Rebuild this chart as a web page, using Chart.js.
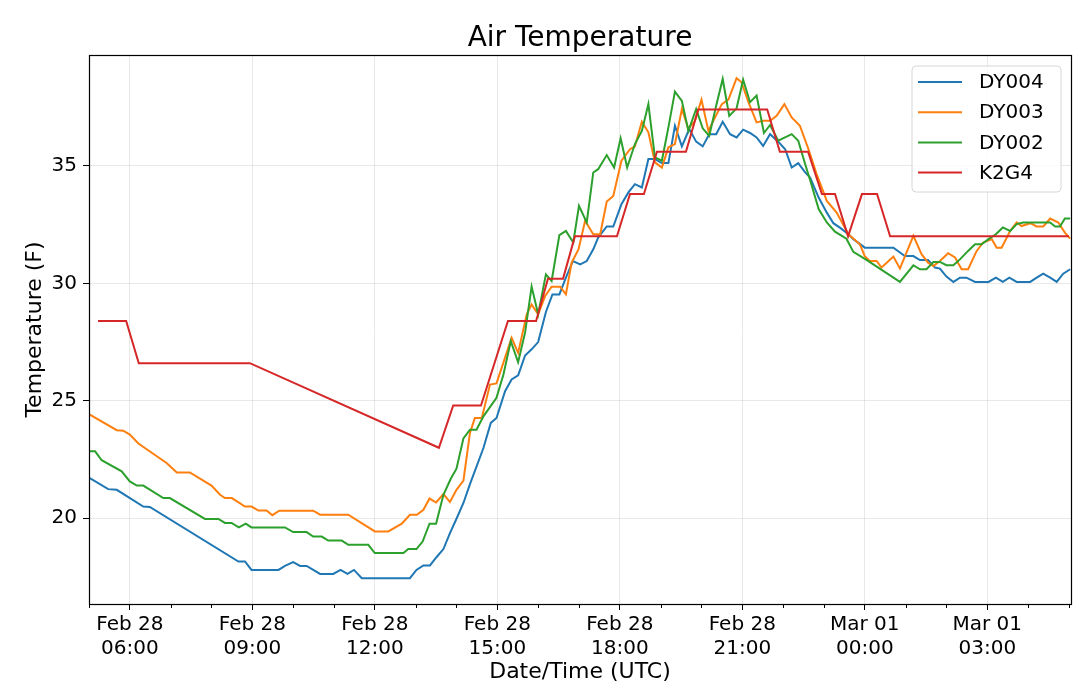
<!DOCTYPE html>
<html>
<head>
<meta charset="utf-8">
<script src="https://cdn.jsdelivr.net/npm/chart.js@4.4.1/dist/chart.umd.min.js"></script>
<style>
  html, body { margin: 0; padding: 0; background: #ffffff; }
  #wrap { width: 1080px; height: 694px; }
</style>
</head>
<body>
<div id="wrap"><canvas id="c" width="1080" height="694"></canvas></div>
<script>
// ---- Data (hours since Feb 28 00:00 UTC, temperature in F) ----
const dy004Hours = [5.02,5.47,5.68,6.33,6.49,8.66,8.82,8.98,9.64,9.8,10.0,10.17,10.33,10.66,10.98,11.16,11.33,11.49,11.68,12.86,13.02,13.19,13.35,13.51,13.68,13.84,14.0,14.17,14.33,14.66,14.84,14.98,15.19,15.35,15.51,15.68,15.84,16.0,16.19,16.35,16.52,16.68,16.85,17.03,17.19,17.35,17.47,17.68,17.84,18.04,18.21,18.37,18.54,18.7,18.86,19.03,19.19,19.35,19.52,19.7,19.87,20.03,20.19,20.36,20.52,20.7,20.86,21.02,21.19,21.35,21.51,21.68,21.88,22.05,22.21,22.37,22.54,22.66,22.87,23.07,23.23,23.39,23.6,23.72,24.0,24.7,24.98,25.19,25.35,25.55,25.72,25.84,26.0,26.17,26.33,26.49,26.7,27.03,27.21,27.38,27.54,27.72,28.05,28.21,28.37,28.54,28.7,28.86,29.03];
const dy004Temps = [21.71,21.24,21.21,20.5,20.48,18.16,18.16,17.8,17.8,17.97,18.13,17.97,17.97,17.63,17.63,17.8,17.63,17.8,17.45,17.45,17.8,17.99,17.99,18.34,18.69,19.37,19.98,20.65,21.45,22.99,24.06,24.27,25.41,25.91,26.08,26.93,27.19,27.5,28.78,29.53,29.53,30.24,30.95,30.81,30.95,31.45,31.95,32.42,32.42,33.37,33.87,34.22,34.08,35.29,35.29,35.12,35.12,36.71,35.83,36.57,36.03,35.83,36.35,36.35,36.88,36.35,36.21,36.54,36.4,36.21,35.85,36.35,36.03,35.71,34.93,35.12,34.72,34.5,33.65,33.01,32.56,32.37,32.09,31.88,31.52,31.52,31.16,31.16,30.99,30.99,30.67,30.63,30.29,30.06,30.24,30.24,30.06,30.06,30.24,30.06,30.24,30.06,30.06,30.24,30.41,30.24,30.06,30.41,30.6];

const dy003Hours = [5.02,5.68,5.84,6.0,6.21,6.9,7.15,7.47,8.0,8.21,8.33,8.5,8.82,8.98,9.15,9.35,9.49,9.66,10.49,10.66,11.35,12.0,12.33,12.66,12.86,13.03,13.19,13.34,13.5,13.68,13.84,14.0,14.17,14.33,14.45,14.62,14.82,14.98,15.35,15.51,15.72,15.84,16.0,16.17,16.33,16.54,16.68,16.82,16.99,17.15,17.35,17.52,17.68,17.84,18.04,18.25,18.37,18.54,18.7,18.86,19.03,19.19,19.35,19.52,19.68,19.84,20.0,20.17,20.33,20.5,20.66,20.86,20.98,21.15,21.35,21.51,21.68,21.84,22.03,22.21,22.41,22.62,22.82,23.07,23.31,23.6,23.88,24.0,24.12,24.29,24.41,24.7,24.86,25.19,25.39,25.55,25.68,25.84,26.04,26.21,26.37,26.53,26.74,26.9,27.11,27.23,27.35,27.56,27.72,27.84,28.05,28.21,28.37,28.54,28.74,28.9,29.03];
const dy003Temps = [24.41,23.75,23.73,23.56,23.18,22.35,21.95,21.95,21.39,21.0,20.86,20.86,20.5,20.5,20.33,20.33,20.13,20.32,20.32,20.15,20.15,19.44,19.44,19.77,20.15,20.15,20.36,20.84,20.67,21.03,20.69,21.21,21.6,23.63,24.27,24.27,25.69,25.74,27.68,27.04,28.68,29.1,28.68,29.46,29.86,29.86,29.53,30.88,31.45,32.66,32.09,32.09,33.48,33.72,35.22,35.71,35.83,36.88,36.43,35.15,34.93,35.79,35.93,37.42,36.57,36.92,37.82,36.49,37.06,37.63,37.82,38.73,38.56,37.71,36.85,36.92,36.92,37.13,37.63,37.06,36.71,35.71,34.65,33.51,33.01,32.09,31.66,31.16,30.95,30.95,30.67,31.14,30.63,32.02,31.24,30.88,30.74,30.95,31.28,31.1,30.6,30.6,31.38,31.74,31.88,31.52,31.52,32.23,32.59,32.44,32.56,32.42,32.42,32.76,32.59,32.16,31.9];

const dy002Hours = [5.02,5.15,5.31,5.8,6.0,6.17,6.33,6.82,6.98,7.84,8.17,8.33,8.49,8.67,8.84,8.98,9.8,10.0,10.33,10.49,10.7,10.86,11.19,11.35,11.84,12.0,12.7,12.82,13.02,13.17,13.34,13.5,13.68,13.86,14.0,14.17,14.33,14.49,14.66,14.98,15.15,15.33,15.51,15.68,15.84,16.0,16.19,16.33,16.52,16.68,16.86,17.0,17.19,17.35,17.47,17.68,17.86,18.02,18.18,18.37,18.54,18.7,18.86,19.03,19.19,19.35,19.52,19.68,19.87,20.03,20.19,20.36,20.52,20.68,20.86,21.02,21.19,21.35,21.53,21.68,21.88,22.21,22.37,22.54,22.66,22.87,23.07,23.27,23.55,23.72,24.05,24.86,25.19,25.35,25.51,25.68,25.84,26.0,26.17,26.33,26.53,26.7,26.86,27.03,27.21,27.38,27.56,27.72,27.88,28.54,28.66,28.78,28.9,29.03];
const dy002Temps = [22.85,22.85,22.47,22.0,21.57,21.39,21.39,20.86,20.86,19.97,19.97,19.8,19.8,19.61,19.77,19.61,19.61,19.41,19.41,19.22,19.22,19.05,19.05,18.87,18.87,18.52,18.52,18.69,18.69,19.01,19.77,19.77,21.0,21.68,22.11,23.4,23.77,23.77,24.34,25.13,26.12,27.54,26.64,27.9,29.86,28.68,30.38,30.1,32.05,32.23,31.74,33.3,32.59,34.72,34.86,35.46,34.93,36.17,34.93,35.93,36.49,37.63,35.36,35.22,36.64,38.16,37.77,36.49,37.42,36.6,36.28,37.56,38.7,37.13,37.45,38.67,37.71,37.99,36.4,36.74,36.07,36.35,36.07,35.07,34.4,33.16,32.59,32.2,31.9,31.34,30.99,30.06,30.77,30.6,30.6,30.91,30.91,30.77,30.77,31.02,31.38,31.66,31.66,31.88,32.09,32.38,32.23,32.52,32.59,32.59,32.42,32.42,32.76,32.76];

const k2g4Hours = [5.22,5.91,6.22,8.94,13.57,13.92,14.6,15.26,15.95,16.24,16.61,16.9,17.93,18.25,18.59,18.91,19.62,19.92,21.61,21.92,22.61,22.95,23.27,23.59,23.93,24.3,24.62,29.0];
const k2g4Temps = [28.4,28.4,26.6,26.6,23.0,24.8,24.8,28.4,28.4,30.2,30.2,32.0,32.0,33.8,33.8,35.6,35.6,37.4,37.4,35.6,35.6,33.8,33.8,32.0,33.8,33.8,32.0,32.0];

const seriesNames = ['DY004', 'DY003', 'DY002', 'K2G4'];
const chartTitle = 'Air Temperature';
const xTickHours = [6, 9, 12, 15, 18, 21, 24, 27];
const xTickLabels = [['Feb 28','06:00'],['Feb 28','09:00'],['Feb 28','12:00'],['Feb 28','15:00'],['Feb 28','18:00'],['Feb 28','21:00'],['Mar 01','00:00'],['Mar 01','03:00']];
const yTickValues = [20, 25, 30, 35];

// ---- Build ----
const FONT = "'DejaVu Sans', 'Liberation Sans', sans-serif";
const colors = ['#1f77b4', '#ff7f0e', '#2ca02c', '#d62728'];
const pairs = (hs, ts) => hs.map((h, i) => ({ x: h, y: ts[i] }));
const seriesData = [pairs(dy004Hours, dy004Temps), pairs(dy003Hours, dy003Temps), pairs(dy002Hours, dy002Temps), pairs(k2g4Hours, k2g4Temps)];

const datasets = seriesNames.map((name, i) => ({
  label: name,
  data: seriesData[i],
  borderColor: colors[i],
  backgroundColor: colors[i],
  borderWidth: 2,
  pointRadius: 0,
  tension: 0,
  fill: false,
  order: seriesNames.length - 1 - i
}));

const isMajorX = (v) => xTickHours.some(h => Math.abs(h - v) < 1e-6);

const framePlugin = {
  id: 'frameAndLegend',
  afterDraw(chart) {
    const { ctx, chartArea: a } = chart;
    const xs = chart.scales.x;
    ctx.save();
    // title centred over the plot area
    ctx.fillStyle = '#000';
    ctx.font = '28px ' + FONT;
    ctx.textAlign = 'center';
    ctx.textBaseline = 'alphabetic';
    ctx.fillText(chartTitle, (a.left + a.right) / 2, 46);
    // minor ticks
    ctx.strokeStyle = '#000';
    ctx.lineWidth = 1;
    xs.ticks.forEach(t => {
      if (isMajorX(t.value)) return;
      const px = Math.round(xs.getPixelForValue(t.value)) + 0.5;
      ctx.beginPath();
      ctx.moveTo(px, a.bottom);
      ctx.lineTo(px, a.bottom + 4);
      ctx.stroke();
    });
    // spines
    ctx.strokeStyle = '#000';
    ctx.lineWidth = 1.2;
    ctx.strokeRect(Math.round(a.left) + 0.5, Math.round(a.top) + 0.5, Math.round(a.right - a.left), Math.round(a.bottom - a.top));
    // legend
    const bx = 912, by = 66, bw = 149, bh = 126, r = 4;
    ctx.beginPath();
    ctx.moveTo(bx + r, by);
    ctx.lineTo(bx + bw - r, by);
    ctx.quadraticCurveTo(bx + bw, by, bx + bw, by + r);
    ctx.lineTo(bx + bw, by + bh - r);
    ctx.quadraticCurveTo(bx + bw, by + bh, bx + bw - r, by + bh);
    ctx.lineTo(bx + r, by + bh);
    ctx.quadraticCurveTo(bx, by + bh, bx, by + bh - r);
    ctx.lineTo(bx, by + r);
    ctx.quadraticCurveTo(bx, by, bx + r, by);
    ctx.closePath();
    ctx.fillStyle = 'rgba(255,255,255,0.8)';
    ctx.fill();
    ctx.strokeStyle = '#d6d6d6';
    ctx.lineWidth = 1;
    ctx.stroke();
    ctx.font = '20px ' + FONT;
    ctx.textBaseline = 'middle';
    ctx.textAlign = 'left';
    chart.data.datasets.forEach((ds, i) => {
      const yy = 82 + i * 30.2;
      ctx.strokeStyle = ds.borderColor;
      ctx.lineWidth = 2;
      ctx.beginPath();
      ctx.moveTo(918, yy);
      ctx.lineTo(962, yy);
      ctx.stroke();
      ctx.fillStyle = '#000';
      ctx.fillText(ds.label, 979, yy + 1);
    });
    ctx.restore();
  }
};

new Chart(document.getElementById('c'), {
  type: 'line',
  data: { datasets },
  options: {
    responsive: false,
    animation: false,
    devicePixelRatio: 1,
    layout: { padding: { left: 0, right: 9, top: 55, bottom: 0 } },
    plugins: {
      legend: { display: false },
      tooltip: { enabled: false },
      title: { display: false }
    },
    scales: {
      x: {
        type: 'linear',
        min: 5,
        max: 29.05,
        afterFit: (s) => { s.height = 90; },
        ticks: {
          stepSize: 1,
          includeBounds: false,
          autoSkip: false,
          maxRotation: 0,
          minRotation: 0,
          padding: 3,
          color: '#000',
          font: { family: FONT, size: 20, lineHeight: 1.2 },
          callback: (v) => {
            const idx = xTickHours.findIndex(h => Math.abs(h - v) < 1e-6);
            return idx >= 0 ? xTickLabels[idx] : '';
          }
        },
        grid: {
          color: (c) => (c.tick && isMajorX(c.tick.value)) ? 'rgba(0,0,0,0.09)' : 'rgba(0,0,0,0)',
          tickColor: (c) => (c.tick && isMajorX(c.tick.value)) ? '#000' : 'rgba(0,0,0,0)',
          tickLength: 6,
          drawTicks: true,
          lineWidth: 1
        },
        border: { display: false },
        title: {
          display: true,
          text: 'Date/Time (UTC)',
          color: '#000',
          font: { family: FONT, size: 22 },
          padding: { top: 0, bottom: 8.8 }
        }
      },
      y: {
        type: 'linear',
        min: 16.35,
        max: 39.72,
        afterFit: (s) => { s.width = 89; },
        afterBuildTicks: (s) => { s.ticks = yTickValues.map(v => ({ value: v })); },
        ticks: {
          stepSize: 5,
          includeBounds: false,
          padding: 6,
          color: '#000',
          font: { family: FONT, size: 20 }
        },
        grid: {
          color: 'rgba(0,0,0,0.09)',
          tickColor: '#000',
          tickLength: 6,
          lineWidth: 1
        },
        border: { display: false },
        title: {
          display: true,
          text: 'Temperature (F)',
          color: '#000',
          font: { family: FONT, size: 22 },
          padding: { top: 21.8, bottom: 0 }
        }
      }
    }
  },
  plugins: [framePlugin]
});
</script>
</body>
</html>
